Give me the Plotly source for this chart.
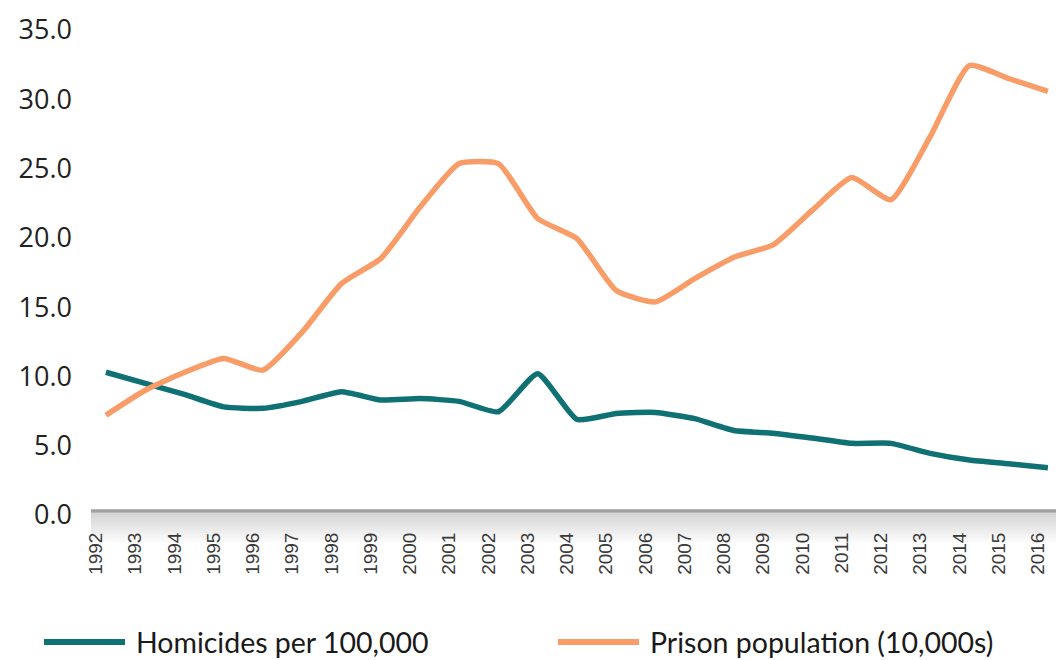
import plotly.graph_objects as go

# values
years = list(range(1992, 2017))
homicides = [10.3, 9.5, 8.7, 7.8, 7.7, 8.2, 8.9, 8.3, 8.4, 8.2, 7.45, 10.2, 6.9,
             7.33, 7.4, 6.95, 6.1, 5.9, 5.55, 5.17, 5.17, 4.45, 3.97, 3.7, 3.41]
prison = [7.2, 9.0, 10.3, 11.3, 10.45, 13.2, 16.7, 18.5, 22.2, 25.36, 25.36, 21.4,
          19.95, 16.2, 15.38, 17.06, 18.6, 19.5, 22.0, 24.35, 22.75, 27.3, 32.44,
          31.5, 30.57]
series_names = ["Homicides per 100,000", "Prison population (10,000s)"]
series_colors = ["#0f7174", "#f89c68"]
y_ticks = [0, 5, 10, 15, 20, 25, 30, 35]

# page is shown with an 8px body margin, so everything is laid out 8px up/left
PLOT_H = 485
PLOT_W = 973
x_range = [1991.62, 2016.41]
label_shift = 0.255  # year labels sit a little left of the points in the original


def py(p):
    # page pixel row -> paper y
    return (515 - p) / PLOT_H


def px(p):
    # page pixel column -> paper x
    return (p - 91) / PLOT_W


fig = go.Figure()
for name, vals, col in zip(series_names, [homicides, prison], series_colors):
    fig.add_trace(go.Scatter(x=years, y=vals, name=name, mode="lines",
                             line=dict(color=col, width=5.5, shape="spline", smoothing=0.5),
                             showlegend=False, hoverinfo="x+y"))
# carrier for the label axis, drawn invisibly
fig.add_trace(go.Scatter(x=years, y=homicides, xaxis="x2", mode="lines", opacity=0,
                         showlegend=False, hoverinfo="skip"))

# axis bar with the grey fade underneath, like the original
shapes = []
n_steps = 16
for i in range(n_steps):
    g = int(214 + (255 - 214) * i / (n_steps - 1))
    shapes.append(dict(type="rect", xref="paper", yref="paper", layer="below",
                       x0=0, x1=1, y0=py(513 + 2 * (i + 1)), y1=py(513 + 2 * i),
                       fillcolor=f"rgb({g},{g},{g})", line=dict(width=0)))
shapes.append(dict(type="line", xref="paper", yref="paper", x0=0, x1=1,
                   y0=py(511), y1=py(511), line=dict(color="#a0a0a0", width=3.5)))

# hand-made legend so the sample lines are as long as in the original
leg_x = [44, 558]
annotations = []
for i, (name, col) in enumerate(zip(series_names, series_colors)):
    x0 = leg_x[i]
    shapes.append(dict(type="line", xref="paper", yref="paper",
                       x0=px(x0), x1=px(x0 + 81), y0=py(642), y1=py(642),
                       line=dict(color=col, width=6)))
    annotations.append(dict(xref="paper", yref="paper", x=px(x0 + 90), y=py(642),
                            text=name, showarrow=False, xanchor="left", yanchor="middle",
                            font=dict(family="Lato", size=28.5, color="#1a1a1a")))

fig.update_layout(
    width=1056, height=652,
    margin=dict(l=83, r=0, t=22, b=145),
    paper_bgcolor="white", plot_bgcolor="white",
    shapes=shapes, annotations=annotations,
    xaxis=dict(range=x_range, showticklabels=False, showgrid=False, zeroline=False,
               showline=False, ticks=""),
    xaxis2=dict(range=[x_range[0] + label_shift, x_range[1] + label_shift],
                overlaying="x", anchor="y", side="bottom",
                tickvals=years, ticktext=[str(y) for y in years],
                tickangle=-90, showgrid=False, zeroline=False, showline=False,
                ticks="outside", ticklen=9, tickcolor="rgba(0,0,0,0)",
                tickfont=dict(family="Liberation Sans", size=19, color="#3a3a3a")),
    yaxis=dict(range=[0, 35], tickvals=y_ticks, tickformat=".1f", showgrid=False,
               zeroline=False, showline=False, ticks="", ticklabelstandoff=18,
               tickfont=dict(family="Open Sans", size=27, color="#222222")),
)

fig.write_html("out.html")
